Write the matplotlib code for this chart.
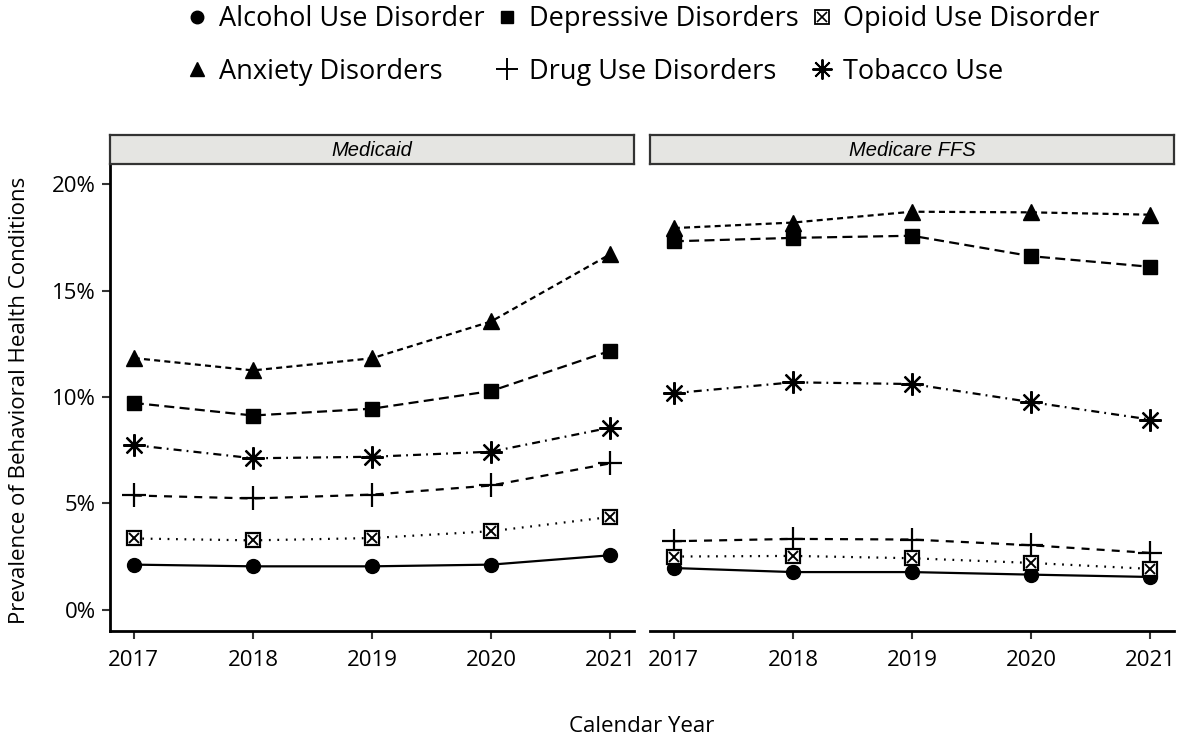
import matplotlib.pyplot as plt
from matplotlib.lines import Line2D
from matplotlib.legend_handler import HandlerTuple

years = [2017, 2018, 2019, 2020, 2021]
panels = ["Medicaid", "Medicare FFS"]

# prevalence in percent, per panel
alcohol = [[2.12, 2.04, 2.04, 2.12, 2.56], [1.96, 1.77, 1.77, 1.65, 1.54]]
anxiety = [[11.83, 11.25, 11.82, 13.55, 16.71], [17.94, 18.20, 18.71, 18.68, 18.57]]
depressive = [[9.72, 9.13, 9.45, 10.28, 12.17], [17.32, 17.48, 17.58, 16.62, 16.12]]
drug = [[5.37, 5.23, 5.41, 5.84, 6.88], [3.22, 3.33, 3.30, 3.03, 2.67]]
opioid = [[3.35, 3.26, 3.37, 3.69, 4.36], [2.50, 2.53, 2.42, 2.20, 1.92]]
tobacco = [[7.74, 7.12, 7.19, 7.43, 8.56], [10.18, 10.69, 10.61, 9.76, 8.94]]

y_ticks = [0, 5, 10, 15, 20]
y_labels = ["0%", "5%", "10%", "15%", "20%"]

plt.rcParams['font.family'] = ['Open Sans', 'DejaVu Sans']

fig = plt.figure(figsize=(11.8, 7.4), dpi=100)
W, H = 1180, 740

lw = 1.6
# name, data, marker, size, linestyle (dash pattern)
series = [
    ("Alcohol Use Disorder", alcohol, "o", 10, "-"),
    ("Anxiety Disorders", anxiety, "^", 11, (0, (2.7, 1.9))),
    ("Depressive Disorders", depressive, "s", 9.5, (0, (4.5, 2.4))),
    ("Drug Use Disorders", drug, "+", 17, (0, (3.6, 3.2))),
    ("Opioid Use Disorder", opioid, "box", 9.5, (0, (0.8, 3.0))),
    ("Tobacco Use", tobacco, (8, 2, 0), 16, (0, (3.6, 2.3, 0.8, 2.3))),
]

lefts = [110, 650]
for p, left in enumerate(lefts):
    ax = fig.add_axes([left / W, 1 - 631 / H, 524 / W, (631 - 163) / H])
    for name, data, mk, ms, ls in series:
        vals = data[p]
        if mk == "box":
            ax.plot(years, vals, color="black", lw=lw, linestyle=ls, zorder=2)
            ax.plot(years, vals, linestyle="none", marker="s", ms=ms, mfc="white",
                    mec="black", mew=1.6, zorder=3)
            ax.plot(years, vals, linestyle="none", marker="x", ms=ms * 0.75,
                    mec="black", mew=1.4, zorder=4)
        else:
            mew = 1.6 if mk in ("+", (8, 2, 0)) else 1
            ax.plot(years, vals, color="black", lw=lw, linestyle=ls, marker=mk,
                    ms=ms, mfc="black", mec="black", mew=mew, zorder=3)

    ax.set_xlim(2016.8, 2021.2)
    ax.set_ylim(-1, 21)
    ax.set_xticks(years)
    ax.set_xticklabels([str(y) for y in years], fontsize=16)
    ax.tick_params(axis="x", length=6, width=1.5, pad=8, color="#333333")
    for s in ["top", "right"]:
        ax.spines[s].set_visible(False)
    ax.spines["bottom"].set_linewidth(2)
    if p == 0:
        ax.set_yticks(y_ticks)
        ax.set_yticklabels(y_labels, fontsize=16)
        ax.tick_params(axis="y", length=6, width=1.5, pad=4, color="#333333")
        ax.spines["left"].set_linewidth(2)
    else:
        ax.set_yticks([])
        ax.spines["left"].set_visible(False)

    # facet strip
    strip = fig.add_axes([left / W, 1 - 163.5 / H, 524 / W, 28.5 / H])
    strip.set_xticks([])
    strip.set_yticks([])
    strip.set_facecolor("#e5e5e2")
    for s in strip.spines.values():
        s.set_linewidth(1.6)
        s.set_color("#333333")
    strip.text(0.5, 0.45, panels[p], ha="center", va="center", fontsize=14.5,
               style="italic", family="Liberation Sans", transform=strip.transAxes)

fig.text(20 / W, 1 - 400 / H, "Prevalence of Behavioral Health Conditions",
         rotation=90, ha="center", va="center", fontsize=16)
fig.text(642 / W, 1 - 727 / H, "Calendar Year", ha="center", va="center", fontsize=16)

# legend: points only
handles = []
for name, data, mk, ms, ls in series:
    if mk == "box":
        h1 = Line2D([], [], linestyle="none", marker="s", ms=10, mfc="white",
                    mec="black", mew=1.3)
        h2 = Line2D([], [], linestyle="none", marker="x", ms=7.5, mec="black", mew=1.2)
        handles.append((h1, h2))
    else:
        mew = 1.4 if mk in ("+", (8, 2, 0)) else 1
        handles.append(Line2D([], [], linestyle="none", marker=mk, ms=ms * 0.9,
                              color="black", mew=mew))
fig.legend(handles, [s[0] for s in series], ncol=3, loc="upper center",
           bbox_to_anchor=(0.545, 1.026), frameon=False, fontsize=19.5,
           handlelength=0.8, handletextpad=0.4, columnspacing=0.45,
           labelspacing=0.9, handler_map={tuple: HandlerTuple(ndivide=1)})

fig.savefig("out.png", dpi=100)
